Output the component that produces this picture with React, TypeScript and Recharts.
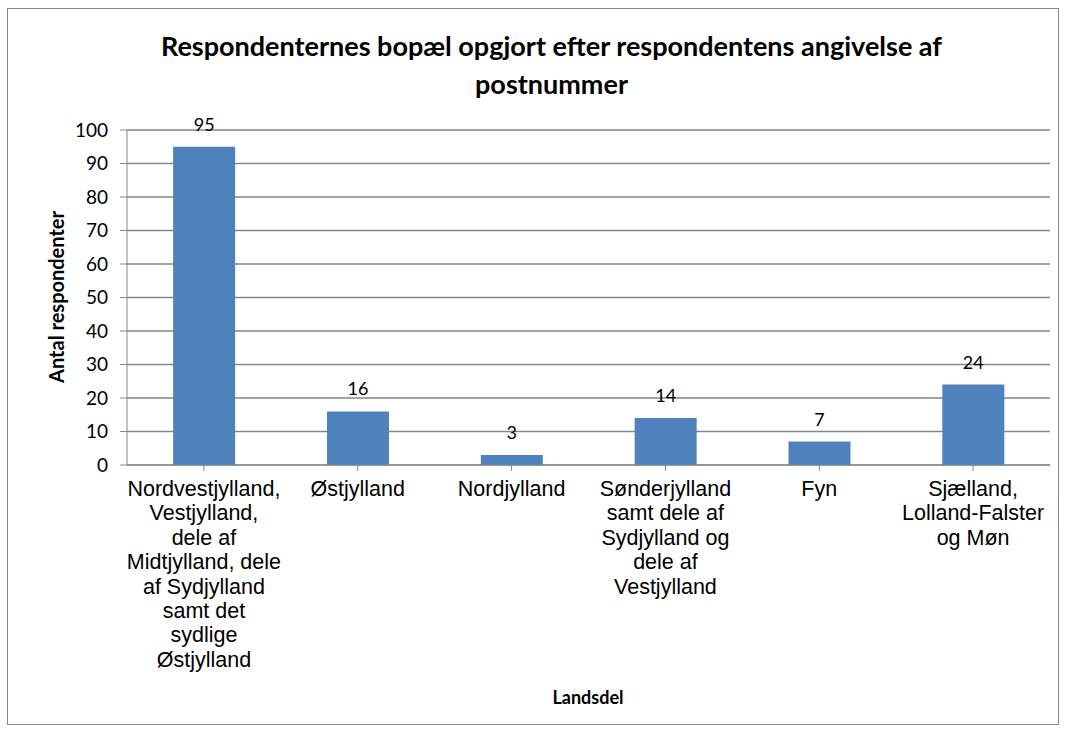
import { BarChart, Bar, XAxis, YAxis, CartesianGrid, LabelList } from 'recharts';

const categories = [
  'Nordvestjylland,\nVestjylland,\ndele af\nMidtjylland, dele\naf Sydjylland\nsamt det\nsydlige\nØstjylland',
  'Østjylland',
  'Nordjylland',
  'Sønderjylland\nsamt dele af\nSydjylland og\ndele af\nVestjylland',
  'Fyn',
  'Sjælland,\nLolland-Falster\nog Møn',
];
const respondents = [95, 16, 3, 14, 7, 24];
const yTicks = [0, 10, 20, 30, 40, 50, 60, 70, 80, 90, 100];

const data = categories.map((name, i) => ({ name, value: respondents[i] }));

const GRID = '#868686';
const TEXT_FONT = '"Liberation Sans", Arial, sans-serif';
const HEAD_FONT = 'Lato, "Open Sans", sans-serif';

function CategoryTick({ x, y, payload }: any) {
  const lines = String(payload.value).split('\n');
  return (
    <text x={x} y={y + 23} textAnchor="middle" fontFamily={TEXT_FONT} fontSize={21.5} fill="#000">
      {lines.map((line, i) => (
        <tspan key={i} x={x} dy={i === 0 ? 0 : 24.4}>
          {line}
        </tspan>
      ))}
    </text>
  );
}

export default function App() {
  return (
    <div style={{ position: 'absolute', left: 0, top: 0, width: 1067, height: 733, background: '#fff' }}>
      <div
        style={{
          position: 'absolute',
          left: 7,
          top: 8,
          width: 1052,
          height: 717,
          border: '1.5px solid #888',
          boxSizing: 'border-box',
        }}
      />
      <div
        style={{
          position: 'absolute',
          left: 0,
          top: 27,
          width: 1103,
          textAlign: 'center',
          fontFamily: HEAD_FONT,
          fontWeight: 700,
          fontSize: 27,
          lineHeight: '38px',
        }}
      >
        Respondenternes bopæl opgjort efter respondentens angivelse af
        <br />
        postnummer
      </div>
      <div
        style={{
          position: 'absolute',
          left: 56,
          top: 297,
          transform: 'translate(-50%, -50%) rotate(-90deg)',
          whiteSpace: 'nowrap',
          fontFamily: HEAD_FONT,
          fontWeight: 700,
          fontSize: 20,
        }}
      >
        Antal respondenter
      </div>
      <div
        style={{
          position: 'absolute',
          left: 588,
          top: 697,
          transform: 'translate(-50%, -50%)',
          whiteSpace: 'nowrap',
          fontFamily: HEAD_FONT,
          fontWeight: 700,
          fontSize: 18,
        }}
      >
        Landsdel
      </div>
      <div style={{ position: 'absolute', left: 0, top: 0 }}>
        <BarChart
          width={1067}
          height={733}
          data={data}
          margin={{ top: 130, right: 17, bottom: 0, left: 0 }}
          barCategoryGap="30%"
        >
          <CartesianGrid vertical={false} stroke={GRID} strokeWidth={1.3} />
          <XAxis
            dataKey="name"
            height={268}
            interval={0}
            stroke={GRID}
            tickSize={6}
            tick={<CategoryTick />}
            tickLine={{ stroke: GRID }}
          />
          <YAxis
            width={127}
            domain={[0, 100]}
            ticks={yTicks}
            interval={0}
            stroke={GRID}
            tickSize={7}
            tickMargin={12}
            tick={{ fontFamily: HEAD_FONT, fontSize: 19, fill: '#000' }}
          />
          <Bar dataKey="value" fill="#4F81BD" isAnimationActive={false}>
            <LabelList dataKey="value" position="top" offset={16} fontFamily={HEAD_FONT} fontSize={18} fill="#000" />
          </Bar>
        </BarChart>
      </div>
    </div>
  );
}
